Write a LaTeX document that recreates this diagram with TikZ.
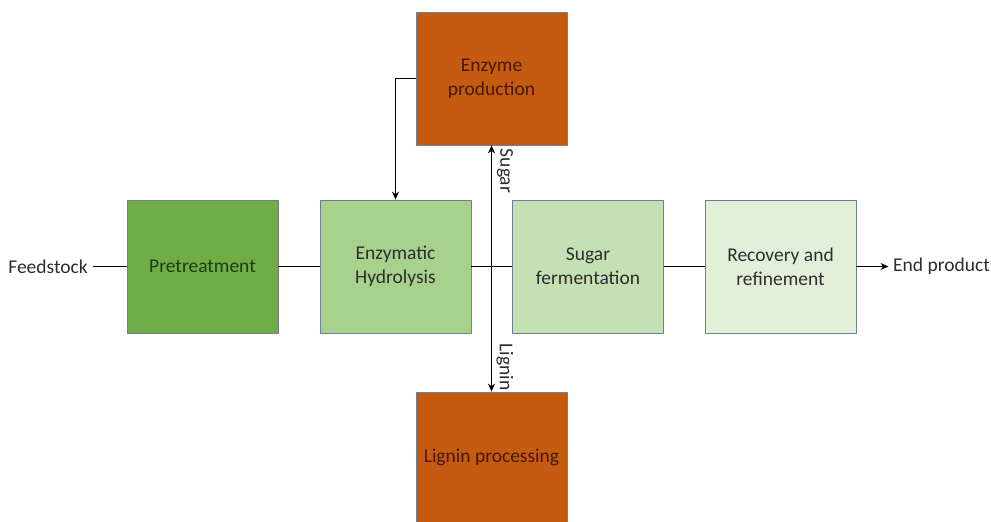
\documentclass[tikz,border=0pt]{standalone}
\usepackage{fontspec}
\setmainfont{Carlito}
\usetikzlibrary{arrows.meta}
\definecolor{pretreat}{RGB}{112,173,71}
\definecolor{hydro}{RGB}{169,209,142}
\definecolor{ferment}{RGB}{197,224,180}
\definecolor{recover}{RGB}{226,240,217}
\definecolor{enzyme}{RGB}{197,90,17}
\definecolor{boxline}{RGB}{110,128,146}
\definecolor{darkgreen}{RGB}{30,62,16}
\definecolor{darkbrown}{RGB}{70,24,4}
\definecolor{textgray}{RGB}{45,45,45}
\begin{document}
\begin{tikzpicture}[x=1pt,y=-1pt,font=\fontsize{19.5}{24}\selectfont,line join=round,>={Stealth[length=8pt,width=7pt]},
	box/.style={draw=boxline,line width=0.7pt,minimum width=151pt,minimum height=133pt,align=center,inner sep=0pt},
	link/.style={line width=1.8pt}]
				\useasboundingbox (0,0) rectangle (991,522);
				\def\ymid{266.5}
				
				% main line of boxes
				\node[box,fill=pretreat,text=darkgreen] (pre) at (202.5,\ymid) {Pretreatment};
				\node[box,fill=hydro,text=textgray] (hyd) at (395.5,\ymid) {Enzymatic\\Hydrolysis};
				\node[box,fill=ferment,text=textgray] (fer) at (588,\ymid) {Sugar\\fermentation};
				\node[box,fill=recover,text=textgray] (rec) at (780.5,\ymid) {Recovery and\\refinement};
				\node[box,fill=enzyme,text=darkbrown] (enz) at (491.5,78.5) {Enzyme\\production};
				\node[box,fill=enzyme,text=darkbrown,minimum height=130pt] (lig) at (491.5,457) {Lignin processing};
				
				\node[anchor=east,inner sep=4.5pt,text=textgray] (feed) at (92.5,\ymid) {Feedstock};
				\node[anchor=west,inner sep=4.5pt,text=textgray] (end) at (888.5,\ymid) {End product};
				
				\draw[link] (feed.east)--(pre.west);
				\draw[link] (pre.east)--(hyd.west);
				\draw[link] (hyd.east)--(fer.west);
				\draw[link] (fer.east)--(rec.west);
				\draw[link,->] (rec.east)--(end.west);
				\draw[link,->] (enz.west)-|(hyd.north);
				\draw[link,<->] (enz.south)--(lig.north);
				
				\node[rotate=-90,inner sep=0pt,text=textgray] (sugar) at (505,171) {Sugar};
				\node[rotate=-90,inner sep=0pt,text=textgray] (lignin) at (505,367) {Lignin};
			\end{tikzpicture}
\end{document}
